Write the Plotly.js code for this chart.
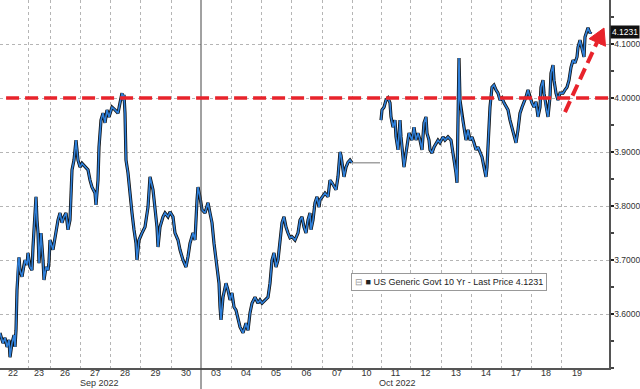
<!DOCTYPE html>
<html><head><meta charset="utf-8">
<script src="https://cdn.plot.ly/plotly-3.0.1.min.js"></script>
<style>html,body{margin:0;padding:0;background:#fff}#chart{width:640px;height:389px}</style>
</head><body><div id="chart"></div>
<script>
// Trading-day labels and session boundaries (in bar-index units)
const dayLabels = ['22','23','26','27','28','29','30','03','04','05','06','07','10','11','12','13','14','17','18','19'];
const dayBreaks = [-2,28,50,80,110,140,171,201,231,261,291,322,352,381,410,441,471,501,531,561,593];
const monthLabels = ['Sep 2022','Oct 2022'];
const monthStartDay = [0, 7];

// US Generic Govt 10Y yield, intraday (bar index, yield %)
const barIdx = [0,3,5,7,9,10,12,14,15,16,17,18,19,20,22,24,25,27,28,30,32,33,35,36,37,38,39,41,43,44,46,48,49,
50,53,56,58,60,62,64,66,68,70,71,72,74,76,78,80,
82,85,88,90,92,95,96,98,99,101,103,105,107,109,
112,115,118,120,122,123,124,125,126,128,130,132,134,136,137,139,
142,145,148,150,153,155,157,158,160,163,165,168,170,
173,175,178,180,183,186,188,190,193,195,197,198,200,
202,205,208,210,212,214,217,219,220,221,223,226,228,230,
232,234,236,238,240,243,246,248,250,252,255,258,260,
262,265,268,270,272,274,276,278,280,282,284,286,288,290,
292,295,298,300,302,304,306,308,310,311,313,315,317,319,320,
322,325,328,330,332,334,336,338,340,341,343,344,346,348,350,352,
366,
381,382,384,386,388,390,391,393,395,396,398,399,400,401,403,404,406,408,409,
412,414,416,418,420,422,424,426,427,429,430,432,434,436,438,440,
443,445,448,451,453,455,456,457,458,459,460,462,464,466,468,470,
472,474,476,478,480,482,484,486,487,488,489,490,492,494,496,498,500,
502,504,506,508,510,512,514,516,518,520,522,524,526,528,530,
532,534,536,538,540,541,543,544,546,548,550,551,553,554,556,558,560,
563,565,567,569,571,573,575,577,578,580,582,584,585,587,588,590,591];
const yld = [3.565,3.546,3.556,3.539,3.552,3.520,3.546,3.561,3.539,3.570,3.644,3.694,3.705,3.681,3.669,3.691,3.700,3.691,3.713,3.687,3.681,3.724,3.774,3.817,3.774,3.750,3.694,3.750,3.700,3.663,3.687,3.681,3.696,
3.737,3.719,3.756,3.774,3.787,3.769,3.780,3.787,3.756,3.774,3.820,3.867,3.885,3.922,3.885,3.872,
3.879,3.872,3.867,3.848,3.835,3.824,3.802,3.848,3.909,3.959,3.972,3.954,3.978,3.965,
3.983,3.978,3.972,3.991,4.009,3.996,4.006,3.972,3.885,3.861,3.817,3.787,3.756,3.731,3.700,3.737,
3.750,3.761,3.798,3.854,3.830,3.798,3.761,3.724,3.761,3.780,3.787,3.780,3.789,
3.780,3.750,3.737,3.719,3.700,3.687,3.706,3.731,3.750,3.737,3.811,3.835,3.817,
3.793,3.787,3.806,3.787,3.769,3.731,3.687,3.657,3.613,3.589,3.631,3.657,3.644,3.626,
3.639,3.613,3.607,3.594,3.576,3.565,3.583,3.570,3.602,3.620,3.631,3.620,3.626,
3.620,3.626,3.631,3.657,3.700,3.713,3.687,3.700,3.737,3.769,3.780,3.761,3.750,3.741,
3.743,3.737,3.750,3.774,3.780,3.761,3.750,3.774,3.787,3.756,3.774,3.806,3.817,3.798,3.811,
3.817,3.824,3.817,3.848,3.843,3.835,3.830,3.854,3.900,3.894,3.872,3.854,3.872,3.881,3.885,3.880,
null,
3.959,3.978,3.983,3.996,4.000,3.991,3.965,3.946,3.959,3.928,3.904,3.935,3.959,3.928,3.891,3.872,3.898,3.922,3.935,
3.922,3.946,3.922,3.935,3.922,3.904,3.954,3.965,3.935,3.922,3.904,3.898,3.909,3.917,3.922,3.917,
3.928,3.922,3.928,3.922,3.898,3.880,3.861,3.843,3.959,4.074,3.996,3.965,3.946,3.922,3.941,3.922,
3.928,3.917,3.904,3.909,3.898,3.891,3.872,3.854,3.872,3.909,3.946,3.983,4.020,4.024,4.015,4.009,3.996,
4.000,3.991,3.983,3.978,3.959,3.946,3.935,3.917,3.941,3.972,3.983,3.991,4.002,4.015,4.000,
3.991,3.983,3.993,3.965,3.983,4.020,4.033,4.009,3.983,3.965,4.002,4.046,4.061,4.033,4.009,3.996,4.009,
4.009,4.015,4.020,4.033,4.057,4.070,4.065,4.076,4.094,4.107,4.094,4.076,4.113,4.122,4.130,4.120,4.123];

// Columbus Day (Oct 10): flat carry of last price
const holidayIdx = [352, 380];
const holidayYld = [3.880, 3.880];

const lastPrice = 4.1231;
const keyLevel = 4.0;
const yTicks = [3.6, 3.7, 3.8, 3.9, 4.0, 4.1];
const arrowFrom = [565, 3.974];
const arrowTo = [597, 4.103];
const arrowHead = [[604, 4.1296], [605.5, 4.0958], [589.1, 4.1098]];

const tickPos = dayLabels.map((_, i) => (dayBreaks[i] + dayBreaks[i + 1]) / 2);
const gridPos = dayBreaks.slice(1, -1).filter((_, i) => i + 1 !== monthStartDay[1]);
const monthPos = monthStartDay.map((d, i) => {
  const end = i + 1 < monthStartDay.length ? dayBreaks[monthStartDay[i + 1]] : dayBreaks[dayBreaks.length - 1];
  return (dayBreaks[d] + end) / 2;
});

const font = 'Liberation Sans, Arial, sans-serif';
const red = '#e8232b';

const traces = [
  {x: barIdx, y: yld, type: 'scatter', mode: 'lines', connectgaps: false,
   line: {color: '#111', width: 3.2}, hoverinfo: 'skip'},
  {x: barIdx, y: yld, type: 'scatter', mode: 'lines', connectgaps: false,
   line: {color: '#2f80da', width: 1.6}},
  {x: holidayIdx, y: holidayYld, type: 'scatter', mode: 'lines',
   line: {color: '#8a8a8a', width: 1.2}}
];

const shapes = [
  {type: 'line', xref: 'x', yref: 'paper', x0: dayBreaks[monthStartDay[1]], x1: dayBreaks[monthStartDay[1]],
   y0: -0.06, y1: 1, line: {color: '#444', width: 1}},
  {type: 'line', xref: 'paper', yref: 'y', x0: 0.01, x1: 1, y0: keyLevel, y1: keyLevel,
   line: {color: red, width: 3.5, dash: '13px,6px'}},
  {type: 'line', xref: 'x', yref: 'y', x0: arrowFrom[0], y0: arrowFrom[1], x1: arrowTo[0], y1: arrowTo[1],
   line: {color: red, width: 4, dash: '12px,6px'}},
  {type: 'path', xref: 'x', yref: 'y',
   path: 'M' + arrowHead.map(p => p[0] + ',' + p[1]).join(' L') + ' Z',
   fillcolor: red, line: {color: red, width: 1}}
];

const annotations = [
  {xref: 'paper', yref: 'y', x: 1, y: lastPrice, xanchor: 'left', xshift: 1, showarrow: false,
   text: lastPrice.toFixed(4), bgcolor: '#111', borderpad: 1,
   font: {family: font, size: 8.5, color: '#fff'}},
  {xref: 'paper', yref: 'paper', x: 0.737, y: 0.235, xanchor: 'center', yanchor: 'middle', showarrow: false,
   text: '<span style="color:#999">⊟</span> ■ US Generic Govt 10 Yr - Last Price ' + lastPrice.toFixed(4),
   bgcolor: '#fff', bordercolor: '#999', borderwidth: 1, borderpad: 3,
   font: {family: font, size: 9, color: '#222'}}
];
monthLabels.forEach((m, i) => annotations.push({
  xref: 'x', yref: 'paper', x: monthPos[i], y: 0, yshift: -8, yanchor: 'top', showarrow: false,
  text: m, font: {family: font, size: 9, color: '#333'}
}));

const layout = {
  width: 640, height: 389,
  margin: {l: 0, r: 31, t: 0, b: 21},
  paper_bgcolor: '#fff', plot_bgcolor: '#fff',
  showlegend: false,
  xaxis: {
    range: [0, 609], tickmode: 'array', tickvals: tickPos, ticktext: dayLabels,
    ticks: '', showgrid: false, zeroline: false, ticklabelstandoff: -4,
    showline: true, linecolor: '#555', linewidth: 1.5,
    tickfont: {family: font, size: 9, color: '#333'},
    minor: {tickmode: 'array', tickvals: gridPos, showgrid: true, gridcolor: '#b5b5b5', griddash: 'dot', gridwidth: 1, ticks: ''}
  },
  yaxis: {
    side: 'right', range: [3.5, 4.1815], tickmode: 'array', tickvals: yTicks,
    ticktext: yTicks.map(v => v.toFixed(4)), ticklabelstandoff: -1,
    ticks: 'outside', ticklen: 3, tickcolor: '#222', tickwidth: 1.5,
    showgrid: true, gridcolor: '#b5b5b5', griddash: 'dot', zeroline: false,
    showline: true, linecolor: '#555', linewidth: 1.5,
    tickfont: {family: font, size: 8.5, color: '#333'},
    minor: {dtick: 0.05, tick0: 3.5, ticks: 'outside', ticklen: 3, tickcolor: '#444', showgrid: false}
  },
  shapes: shapes,
  annotations: annotations
};

Plotly.newPlot('chart', traces, layout, {staticPlot: true, displayModeBar: false});
</script>
</body></html>
